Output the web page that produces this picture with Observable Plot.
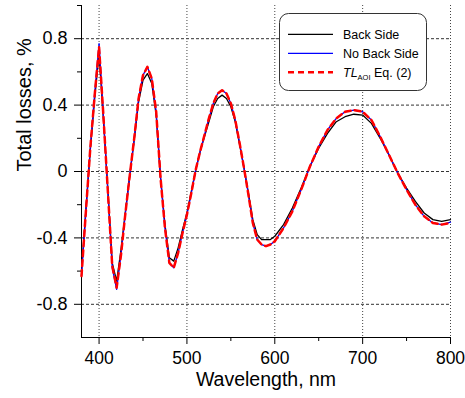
<!DOCTYPE html>
<html><head><meta charset="utf-8">
<script src="https://cdn.jsdelivr.net/npm/d3@7"></script>
<script src="https://cdn.jsdelivr.net/npm/@observablehq/plot@0.6"></script>
<style>body{margin:0;background:#fff}</style>
</head><body><div id="chart"></div>
<script>
const wavelengths = [380,385,390,395,400,405,410,415,420,425,430,435,440,445,450,455,460,465,470,475,480,485,490,495,500,505,510,515,520,525,530,535,540,545,550,555,560,565,570,575,580,585,590,595,600,610,620,630,640,650,660,670,680,690,700,710,720,730,740,750,760,770,780,790,800];
const backSide = [-0.60,-0.23,0.13,0.44,0.71,0.31,-0.11,-0.55,-0.66,-0.47,-0.24,-0.02,0.19,0.42,0.55,0.59,0.53,0.34,-0.04,-0.32,-0.52,-0.54,-0.46,-0.35,-0.25,-0.12,0.01,0.12,0.21,0.30,0.39,0.44,0.46,0.44,0.39,0.30,0.16,0.02,-0.13,-0.29,-0.38,-0.41,-0.41,-0.41,-0.39,-0.32,-0.22,-0.10,0.03,0.14,0.23,0.30,0.33,0.345,0.34,0.29,0.20,0.10,-0.01,-0.10,-0.18,-0.25,-0.29,-0.30,-0.29];
const noBackSide = [-0.63,-0.24,0.14,0.47,0.77,0.33,-0.12,-0.58,-0.71,-0.50,-0.25,-0.02,0.20,0.44,0.58,0.63,0.56,0.36,-0.04,-0.34,-0.55,-0.58,-0.49,-0.37,-0.26,-0.13,0.01,0.12,0.22,0.32,0.41,0.47,0.49,0.47,0.41,0.31,0.17,0.02,-0.14,-0.31,-0.41,-0.44,-0.45,-0.44,-0.42,-0.34,-0.24,-0.11,0.03,0.15,0.25,0.32,0.36,0.37,0.36,0.31,0.21,0.10,-0.01,-0.11,-0.20,-0.27,-0.31,-0.32,-0.305];
const tlAoi = [-0.63,-0.24,0.14,0.46,0.75,0.33,-0.12,-0.57,-0.70,-0.50,-0.25,-0.02,0.20,0.44,0.58,0.63,0.56,0.36,-0.04,-0.34,-0.55,-0.58,-0.49,-0.37,-0.26,-0.13,0.01,0.12,0.22,0.32,0.41,0.47,0.49,0.47,0.41,0.31,0.17,0.02,-0.14,-0.31,-0.41,-0.44,-0.45,-0.44,-0.42,-0.34,-0.24,-0.11,0.03,0.15,0.25,0.32,0.36,0.37,0.36,0.31,0.21,0.10,-0.01,-0.11,-0.20,-0.27,-0.31,-0.32,-0.31];
const seriesNames = ["Back Side", "No Back Side", "TL_AOI Eq. (2)"];
const seriesColors = ["#000000", "#0000ff", "#ff0000"];
const yTicksMajor = [-0.8, -0.4, 0, 0.4, 0.8];
const yTicksMinor = [-0.6, -0.2, 0.2, 0.6, 1.0];
const xTicksMajor = [400, 500, 600, 700, 800];
const xTicksMinor = [450, 550, 650, 750];
const xTitle = "Wavelength, nm";
const yTitle = "Total losses, %";

const seriesValues = [backSide, noBackSide, tlAoi];
const rows = seriesValues.flatMap((vals, s) => wavelengths.map((w, i) => ({w, v: vals[i], s: seriesNames[s]})));
const font = "Arial, 'Liberation Sans', sans-serif";

const plot = Plot.plot({
  width: 465, height: 398,
  marginLeft: 81, marginRight: 15, marginTop: 5, marginBottom: 61,
  style: {fontFamily: font, background: "#fff", color: "#000", overflow: "visible"},
  x: {domain: [380, 800], axis: null},
  y: {domain: [-1, 1], axis: null},
  marks: [
    Plot.ruleY(yTicksMajor, {stroke: "#333", strokeDasharray: "3,2", strokeWidth: 1}),
    Plot.ruleX(xTicksMajor, {stroke: "#444", strokeDasharray: "1,2", strokeWidth: 1}),
    Plot.ruleX([380], {stroke: "#000", strokeWidth: 1}),
    Plot.ruleY([-1], {stroke: "#000", strokeWidth: 1}),
    Plot.axisY(yTicksMajor, {tickSize: 7, tickPadding: 7, fontSize: 18, label: null, tickFormat: d => d === 0 ? "0" : d.toFixed(1)}),
    Plot.axisY(yTicksMinor, {tickSize: 4, label: null, tickFormat: () => ""}),
    Plot.axisX(xTicksMajor, {tickSize: 7, tickPadding: 7, fontSize: 17.5, label: null, tickFormat: d => String(d)}),
    Plot.axisX(xTicksMinor, {tickSize: 4, label: null, tickFormat: () => ""}),
    Plot.line(rows.filter(d => d.s === seriesNames[0]), {x: "w", y: "v", stroke: seriesColors[0], strokeWidth: 1.3}),
    Plot.line(rows.filter(d => d.s === seriesNames[1]), {x: "w", y: "v", stroke: seriesColors[1], strokeWidth: 1.3}),
    Plot.line(rows.filter(d => d.s === seriesNames[2]), {x: "w", y: "v", stroke: seriesColors[2], strokeWidth: 2.5, strokeDasharray: "6,4"}),
    Plot.text([xTitle], {frameAnchor: "bottom", dy: 48, fontSize: 19.5, fill: "#000"}),
    Plot.text([yTitle], {frameAnchor: "left", dx: -57, rotate: -90, fontSize: 20, fill: "#000"})
  ]
});
document.getElementById("chart").appendChild(plot);

// Legend
const svg = d3.select(plot);
const lg = svg.append("g").attr("font-family", font).attr("font-size", 12.5).attr("text-anchor", "start");
lg.append("rect").attr("x", 279.5).attr("y", 13.5).attr("width", 147).attr("height", 77).attr("rx", 9)
  .attr("fill", "#fff").attr("stroke", "#333").attr("stroke-width", 1);
const rowY = [34.3, 53.3, 72.3];
seriesNames.forEach((name, i) => {
  lg.append("line").attr("x1", 288).attr("x2", 333).attr("y1", rowY[i]).attr("y2", rowY[i])
    .attr("stroke", seriesColors[i]).attr("stroke-width", i === 2 ? 2.5 : 1.3)
    .attr("stroke-dasharray", i === 2 ? "6,4" : null);
  const t = lg.append("text").attr("x", 343).attr("y", rowY[i] + 4.5).attr("fill", "#000").attr("text-anchor", "start");
  if (i === 2) {
    const [main, rest] = name.split(" Eq.");
    const [a, b] = main.split("_");
    t.append("tspan").attr("font-style", "italic").text(a);
    t.append("tspan").attr("font-size", 7.5).attr("dy", 3).text(b);
    t.append("tspan").attr("dy", -3).text(" Eq." + rest);
  } else {
    t.text(name);
  }
});
</script>
</body></html>
